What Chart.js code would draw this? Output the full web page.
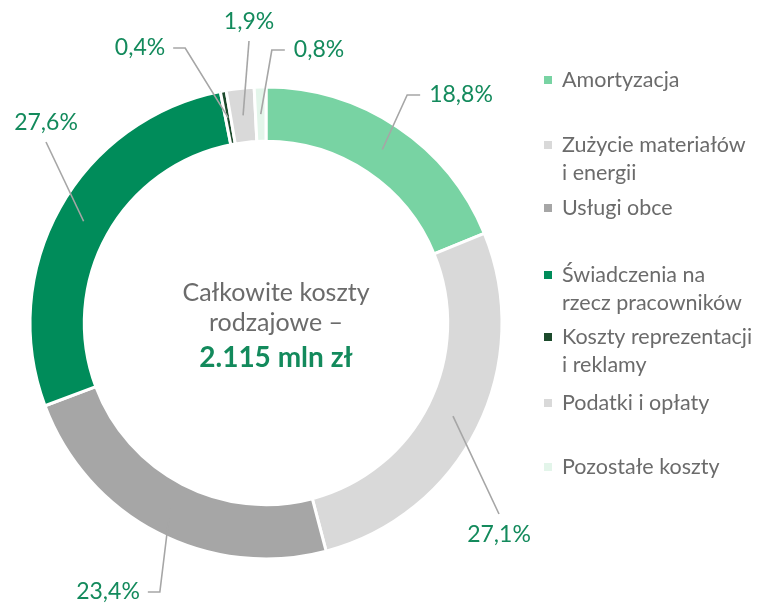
<!DOCTYPE html>
<html lang="pl">
<head>
<meta charset="utf-8">
<script src="https://cdn.jsdelivr.net/npm/chart.js@4.4.1/dist/chart.umd.min.js"></script>
<style>
  html, body { margin: 0; padding: 0; background: #ffffff; }
  #wrap { position: relative; width: 757px; height: 603px; }
</style>
</head>
<body>
<div id="wrap"><canvas id="c" width="757" height="603"></canvas></div>
<script>
// ---- data ----
const categories = [
  ["Amortyzacja"],
  ["Zużycie materiałów", "i energii"],
  ["Usługi obce"],
  ["Świadczenia na", "rzecz pracowników"],
  ["Koszty reprezentacji", "i reklamy"],
  ["Podatki i opłaty"],
  ["Pozostałe koszty"]
];
const shares = [18.8, 27.1, 23.4, 27.6, 0.4, 1.9, 0.8];
const centerLines = ["Całkowite koszty", "rodzajowe –"];
const totalLabel = "2.115 mln zł";

// ---- styles / layout ----
const sliceColors = ["#78D3A3", "#D9D9D9", "#A6A6A6", "#008C5A", "#1C4A2C", "#D9D9D9", "#E3F5EA"];
const textGray = "#6B6B6B";
const labelGreen = "#138A5C";
const leaderGray = "#A6A6A6";
const FONT = "Lato, 'Open Sans', sans-serif";
// label centre offsets from doughnut centre, and leader style
const labelLayout = [
  { dx: 195, dy: -228, kind: "left" },
  { dx: 233, dy: 212, kind: "above" },
  { dx: -158, dy: 269, kind: "right" },
  { dx: -220, dy: -200, kind: "below" },
  { dx: -126, dy: -275, kind: "right" },
  { dx: -17, dy: -301, kind: "below" },
  { dx: 53, dy: -273, kind: "left" }
];
const legendLayout = { x: 544, textX: 562, box: 8, lineH: 28, tops: [80, 145, 208, 275, 337, 403, 467] };

const fmt = v => v.toFixed(1).replace(".", ",") + "%";

const overlay = {
  id: "overlay",
  afterDatasetsDraw(chart) {
    const ctx = chart.ctx;
    const meta = chart.getDatasetMeta(0);
    const first = meta.data[0];
    const cx = first.x, cy = first.y;
    ctx.save();
    // leader lines + labels
    ctx.font = "23px " + FONT;
    ctx.textBaseline = "middle";
    meta.data.forEach((arc, i) => {
      const p = arc.getProps(["x", "y", "startAngle", "endAngle", "innerRadius", "outerRadius"], true);
      const mid = (p.startAngle + p.endAngle) / 2;
      const r = (p.innerRadius + p.outerRadius) / 2;
      const sx = p.x + Math.cos(mid) * r, sy = p.y + Math.sin(mid) * r;
      const L = labelLayout[i];
      const lx = cx + L.dx, ly = cy + L.dy;
      const txt = fmt(shares[i]);
      const w = ctx.measureText(txt).width;
      const pts = [[sx, sy]];
      if (L.kind === "left") {
        pts.push([lx - w / 2 - 22, ly], [lx - w / 2 - 9, ly]);
      } else if (L.kind === "right") {
        pts.push([lx + w / 2 + 20, ly], [lx + w / 2 + 8, ly]);
      } else if (L.kind === "below") {
        pts.push([lx, ly + 19]);
      } else {
        pts.push([lx, ly - 21]);
      }
      ctx.strokeStyle = leaderGray;
      ctx.lineWidth = 1.6;
      ctx.beginPath();
      pts.forEach((q, k) => k ? ctx.lineTo(q[0], q[1]) : ctx.moveTo(q[0], q[1]));
      ctx.stroke();
      ctx.fillStyle = labelGreen;
      ctx.textAlign = "center";
      ctx.fillText(txt, lx, ly);
    });
    // centre text
    ctx.textAlign = "center";
    ctx.fillStyle = textGray;
    ctx.font = "25px " + FONT;
    ctx.fillText(centerLines[0], cx + 10, cy - 30);
    ctx.fillText(centerLines[1], cx + 10, cy);
    ctx.fillStyle = labelGreen;
    ctx.font = "bold 28px " + FONT;
    ctx.fillText(totalLabel, cx + 10, cy + 35);
    // legend
    ctx.textAlign = "left";
    ctx.font = "21.5px " + FONT;
    categories.forEach((lines, i) => {
      const top = legendLayout.tops[i];
      ctx.fillStyle = sliceColors[i];
      ctx.fillRect(legendLayout.x, top - legendLayout.box / 2, legendLayout.box, legendLayout.box);
      ctx.fillStyle = textGray;
      lines.forEach((t, k) => ctx.fillText(t, legendLayout.textX, top + k * legendLayout.lineH));
    });
    ctx.restore();
  }
};

new Chart(document.getElementById("c"), {
  type: "doughnut",
  data: {
    labels: categories,
    datasets: [{
      data: shares,
      backgroundColor: sliceColors,
      borderColor: "#ffffff",
      borderWidth: 3,
      hoverOffset: 0
    }]
  },
  options: {
    responsive: false,
    animation: false,
    cutout: "77%",
    layout: { padding: { left: 28.5, right: 253.5, top: 85.5, bottom: 42.5 } },
    plugins: { legend: { display: false }, tooltip: { enabled: false } }
  },
  plugins: [overlay]
});
</script>
</body>
</html>
